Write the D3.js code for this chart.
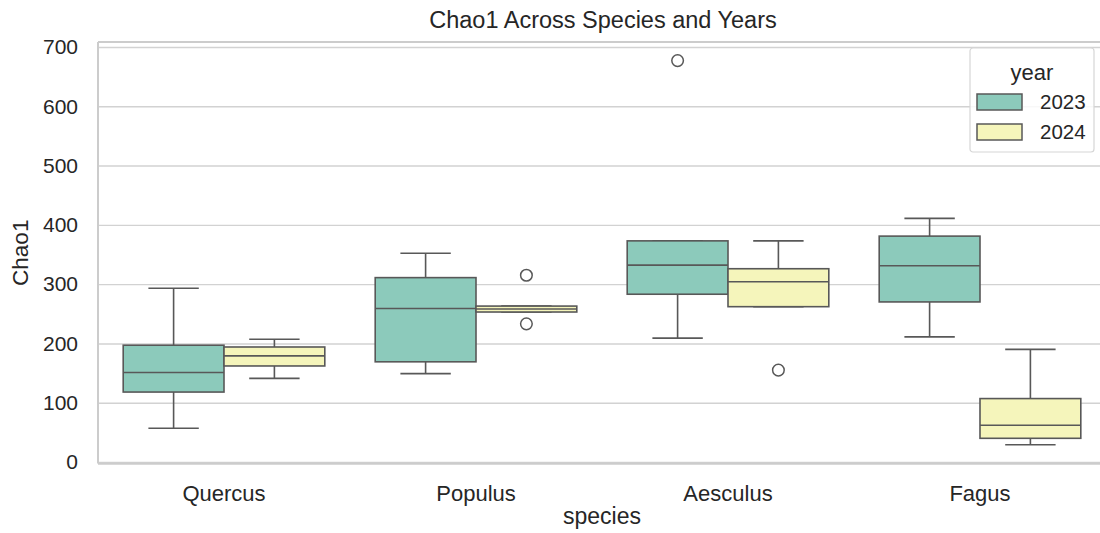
<!DOCTYPE html>
<html>
<head>
<meta charset="utf-8">
<script src="https://cdn.jsdelivr.net/npm/d3@7"></script>
<style>
  html, body { margin: 0; padding: 0; background: #ffffff; }
  svg { display: block; }
  text { font-family: "Liberation Sans", Arial, Helvetica, sans-serif; fill: #262626; }
</style>
</head>
<body>
<svg id="chart" width="1100" height="533"></svg>
<script>
// Categories and hue levels
const species = ["Quercus", "Populus", "Aesculus", "Fagus"];
const years = ["2023", "2024"];
const yTicks = [0, 100, 200, 300, 400, 500, 600, 700];

// Box summaries per species (whisker low, Q1, median, Q3, whisker high)
const lo2023  = [57, 149, 209, 211];
const q1_2023 = [118, 169, 283, 270];
const med2023 = [151, 259, 332, 331];
const q3_2023 = [197, 311, 373, 381];
const hi2023  = [293, 352, 373, 411];
const out2023 = [[], [], [677], []];

const lo2024  = [141, 253, 262, 29];
const q1_2024 = [162, 253, 262, 40];
const med2024 = [179, 258, 304, 62];
const q3_2024 = [194, 263, 326, 107];
const hi2024  = [207, 263, 373, 190];
const out2024 = [[], [315, 233], [155], []];

const yearFills = ["#8ccabb", "#f5f5bb"];

const stats = {
  "2023": { lo: lo2023, q1: q1_2023, med: med2023, q3: q3_2023, hi: hi2023, out: out2023 },
  "2024": { lo: lo2024, q1: q1_2024, med: med2024, q3: q3_2024, hi: hi2024, out: out2024 }
};

const boxes = [];
species.forEach((sp, i) => {
  years.forEach(yr => {
    const s = stats[yr];
    boxes.push({ species: sp, year: yr, lo: s.lo[i], q1: s.q1[i], med: s.med[i],
                 q3: s.q3[i], hi: s.hi[i], out: s.out[i] });
  });
});

const svg = d3.select("#chart");
const plot = { left: 98, right: 1106, top: 42, bottom: 463.5 };
const lineColor = "#585858";
const gridColor = "#d2d2d2";

const x = d3.scaleBand().domain(species).range([plot.left, plot.right]).paddingInner(0).paddingOuter(0);
const xHue = d3.scaleBand().domain(years).range([0, x.bandwidth() * 0.8]);
const y = d3.scaleLinear().domain([-2.5, 708.4]).range([plot.bottom, plot.top]);
const color = d3.scaleOrdinal().domain(years).range(yearFills);

// Clip everything to the plotting area
svg.append("defs").append("clipPath").attr("id", "plotClip")
  .append("rect").attr("x", plot.left).attr("y", plot.top)
  .attr("width", plot.right - plot.left).attr("height", plot.bottom - plot.top);

// Horizontal grid
const yAxis = d3.axisLeft(y).tickValues(yTicks).tickSize(-(plot.right - plot.left)).tickPadding(20);
const gy = svg.append("g").attr("transform", `translate(${plot.left},0)`).call(yAxis);
gy.select(".domain").remove();
gy.selectAll(".tick line").attr("stroke", gridColor).attr("stroke-width", 1.4);
gy.selectAll(".tick text").attr("font-size", 21).style("fill", "#262626")
  .attr("font-family", "Liberation Sans, Arial, sans-serif");

// Spines
svg.append("line").attr("x1", plot.left).attr("x2", plot.left).attr("y1", plot.top).attr("y2", plot.bottom)
  .attr("stroke", "#cccccc").attr("stroke-width", 2);
svg.append("line").attr("x1", plot.left).attr("x2", plot.right).attr("y1", plot.top).attr("y2", plot.top)
  .attr("stroke", "#cccccc").attr("stroke-width", 2);
svg.append("line").attr("x1", plot.left).attr("x2", plot.right).attr("y1", plot.bottom).attr("y2", plot.bottom)
  .attr("stroke", "#cccccc").attr("stroke-width", 2.5);

// X axis labels
const xAxis = d3.axisBottom(x).tickSize(0).tickPadding(22);
const gx = svg.append("g").attr("transform", `translate(0,${plot.bottom})`).call(xAxis);
gx.select(".domain").remove();
gx.selectAll(".tick text").attr("font-size", 22).style("fill", "#262626")
  .attr("font-family", "Liberation Sans, Arial, sans-serif");

// Boxes
const marks = svg.append("g").attr("clip-path", "url(#plotClip)");
const g = marks.selectAll("g.box").data(boxes).join("g").attr("class", "box")
  .attr("transform", d => `translate(${x(d.species) + x.bandwidth() * 0.1 + xHue(d.year)},0)`);
const bw = xHue.bandwidth();

g.append("line").attr("x1", bw / 2).attr("x2", bw / 2)
  .attr("y1", d => y(d.q3)).attr("y2", d => y(d.hi))
  .attr("stroke", lineColor).attr("stroke-width", 1.6);
g.append("line").attr("x1", bw / 2).attr("x2", bw / 2)
  .attr("y1", d => y(d.q1)).attr("y2", d => y(d.lo))
  .attr("stroke", lineColor).attr("stroke-width", 1.6);
g.append("line").attr("x1", bw / 4).attr("x2", bw * 3 / 4)
  .attr("y1", d => y(d.hi)).attr("y2", d => y(d.hi))
  .attr("stroke", lineColor).attr("stroke-width", 1.6);
g.append("line").attr("x1", bw / 4).attr("x2", bw * 3 / 4)
  .attr("y1", d => y(d.lo)).attr("y2", d => y(d.lo))
  .attr("stroke", lineColor).attr("stroke-width", 1.6);
g.append("rect").attr("x", 0).attr("width", bw)
  .attr("y", d => y(d.q3)).attr("height", d => Math.max(0, y(d.q1) - y(d.q3)))
  .attr("fill", d => color(d.year)).attr("stroke", lineColor).attr("stroke-width", 1.6);
g.append("line").attr("x1", 0).attr("x2", bw)
  .attr("y1", d => y(d.med)).attr("y2", d => y(d.med))
  .attr("stroke", lineColor).attr("stroke-width", 1.6);
g.selectAll("circle").data(d => d.out).join("circle")
  .attr("cx", bw / 2).attr("cy", v => y(v)).attr("r", 5.8)
  .attr("fill", "none").attr("stroke", lineColor).attr("stroke-width", 1.5);

// Title and axis labels
svg.append("text").attr("x", 603).attr("y", 27.5).attr("text-anchor", "middle")
  .attr("font-size", 23.5).text("Chao1 Across Species and Years");
svg.append("text").attr("x", (plot.left + plot.right) / 2).attr("y", 524).attr("text-anchor", "middle")
  .attr("font-size", 23).text("species");
svg.append("text").attr("transform", `translate(28,${(plot.top + plot.bottom) / 2}) rotate(-90)`)
  .attr("text-anchor", "middle").attr("font-size", 22.5).text("Chao1");

// Legend
const lg = svg.append("g").attr("transform", "translate(970,48)");
lg.append("rect").attr("width", 124).attr("height", 104).attr("rx", 3)
  .attr("fill", "#ffffff").attr("fill-opacity", 0.85).attr("stroke", "#d6d6d6").attr("stroke-width", 1.2);
lg.append("text").attr("x", 62).attr("y", 32).attr("text-anchor", "middle").attr("font-size", 22).text("year");
const items = lg.selectAll("g.item").data(years).join("g").attr("class", "item")
  .attr("transform", (d, i) => `translate(7,${46 + i * 30})`);
items.append("rect").attr("width", 45).attr("height", 16)
  .attr("fill", d => color(d)).attr("stroke", lineColor).attr("stroke-width", 1.5);
items.append("text").attr("x", 63).attr("y", 15).attr("font-size", 20.5).text(d => d);
</script>
</body>
</html>
